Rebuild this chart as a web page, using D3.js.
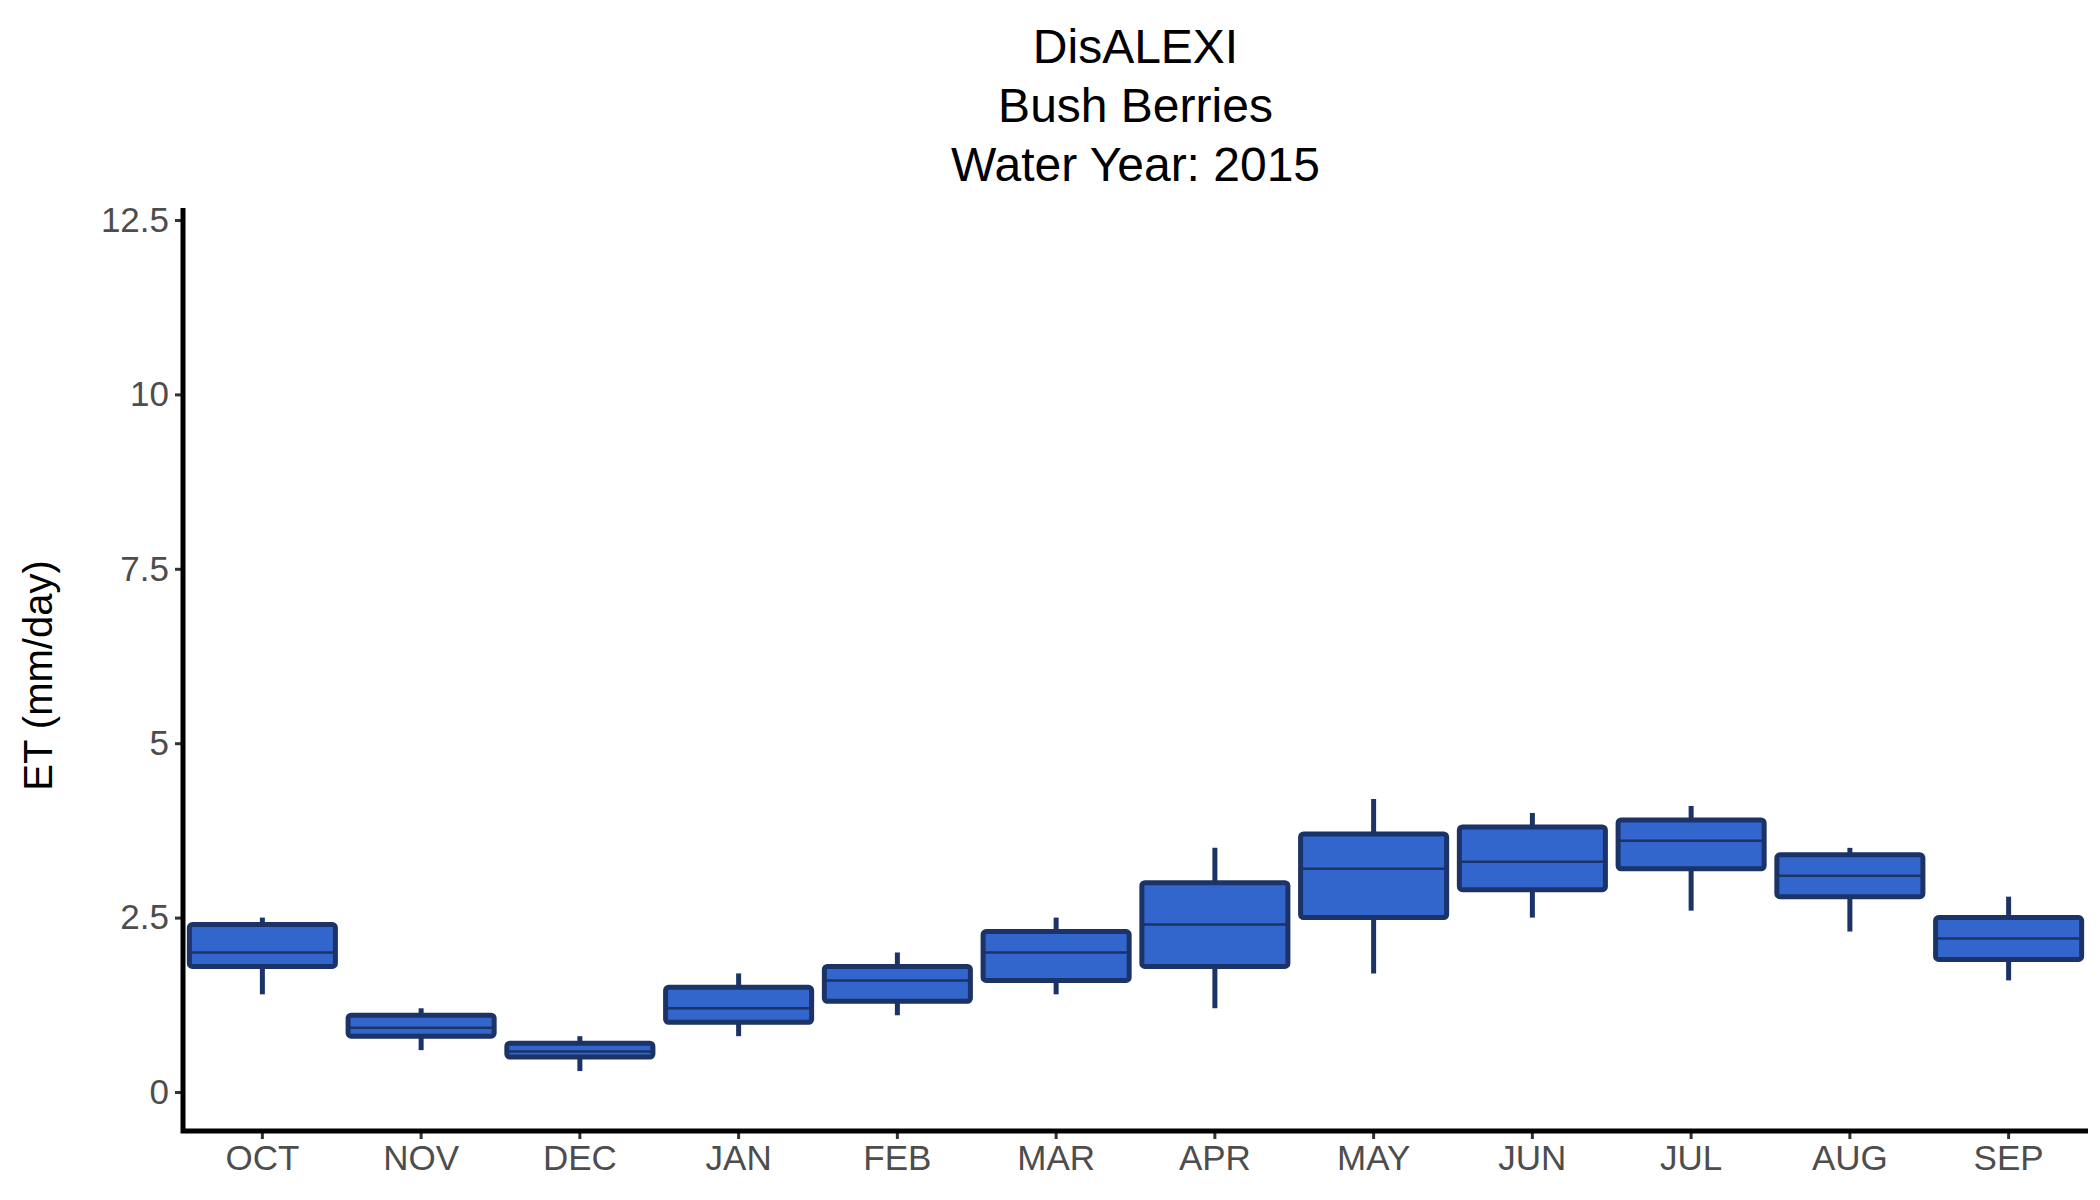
<!DOCTYPE html>
<html>
<head>
<script src="https://d3js.org/d3.v7.min.js"></script>
<style>
  body { margin: 0; background: #fff; }
  text { font-family: Arial, "Liberation Sans", sans-serif; }
</style>
</head>
<body>
<svg id="chart"></svg>
<script>
// data
var months = ["OCT","NOV","DEC","JAN","FEB","MAR","APR","MAY","JUN","JUL","AUG","SEP"];
var lowVals = [1.4, 0.6, 0.3, 0.8, 1.1, 1.4, 1.2, 1.7, 2.5, 2.6, 2.3, 1.6];
var q1Vals  = [1.8, 0.8, 0.5, 1.0, 1.3, 1.6, 1.8, 2.5, 2.9, 3.2, 2.8, 1.9];
var medVals = [2.0, 0.92, 0.58, 1.2, 1.6, 2.0, 2.4, 3.2, 3.3, 3.6, 3.1, 2.2];
var q3Vals  = [2.4, 1.1, 0.7, 1.5, 1.8, 2.3, 3.0, 3.7, 3.8, 3.9, 3.4, 2.5];
var highVals = [2.5, 1.2, 0.8, 1.7, 2.0, 2.5, 3.5, 4.2, 4.0, 4.1, 3.5, 2.8];
var yTicks = [0, 2.5, 5, 7.5, 10, 12.5];
var titleLines = ["DisALEXI", "Bush Berries", "Water Year: 2015"];

var width = 2100, height = 1200;
var left = 183, right = 2088, axisY = 1131;

var svg = d3.select("#chart").attr("width", width).attr("height", height);

var x = d3.scaleBand().domain(months).range([left, right]).paddingInner(0.08).paddingOuter(0.04);
var y = d3.scaleLinear().domain([0, 12.5]).range([1092, 220]);

var stroke = "#1b3366", fill = "#3366cc";

var boxes = svg.selectAll("g.box").data(months).enter().append("g").attr("class", "box");
boxes.append("line")
  .attr("x1", function(d) { return x(d) + x.bandwidth() / 2; })
  .attr("x2", function(d) { return x(d) + x.bandwidth() / 2; })
  .attr("y1", function(d, i) { return y(lowVals[i]); })
  .attr("y2", function(d, i) { return y(highVals[i]); })
  .attr("stroke", stroke).attr("stroke-width", 5);
boxes.append("rect")
  .attr("x", function(d) { return x(d); })
  .attr("width", x.bandwidth())
  .attr("y", function(d, i) { return y(q3Vals[i]); })
  .attr("height", function(d, i) { return y(q1Vals[i]) - y(q3Vals[i]); })
  .attr("rx", 3)
  .attr("fill", fill).attr("stroke", stroke).attr("stroke-width", 5);
boxes.append("line")
  .attr("x1", function(d) { return x(d); })
  .attr("x2", function(d) { return x(d) + x.bandwidth(); })
  .attr("y1", function(d, i) { return y(medVals[i]); })
  .attr("y2", function(d, i) { return y(medVals[i]); })
  .attr("stroke", stroke).attr("stroke-width", 2.5);

// axes
var yAxis = svg.append("g").attr("transform", "translate(" + left + ",0)")
  .call(d3.axisLeft(y).tickValues(yTicks).tickSize(8).tickPadding(6).tickFormat(function(d) { return d; }));
var xAxis = svg.append("g").attr("transform", "translate(0," + axisY + ")")
  .call(d3.axisBottom(x).tickSize(8).tickPadding(6));
[xAxis, yAxis].forEach(function(a) {
  a.select(".domain").remove();
  a.selectAll(".tick line").attr("stroke", "#333").attr("stroke-width", 3);
  a.selectAll(".tick text").attr("fill", "#4d4d4d").style("font-size", "35px");
});
svg.append("path")
  .attr("d", "M" + left + "," + 208 + "V" + axisY + "H" + right)
  .attr("fill", "none").attr("stroke", "#000").attr("stroke-width", 5);

svg.append("text")
  .attr("transform", "translate(52," + ((220 + 1131) / 2) + ") rotate(-90)")
  .attr("text-anchor", "middle").style("font-size", "40px").text("ET (mm/day)");

svg.selectAll("text.title").data(titleLines).enter().append("text")
  .attr("class", "title")
  .attr("x", (left + right) / 2)
  .attr("y", function(d, i) { return 63 + i * 59; })
  .attr("text-anchor", "middle").style("font-size", "48px")
  .text(function(d) { return d; });
</script>
</body>
</html>
